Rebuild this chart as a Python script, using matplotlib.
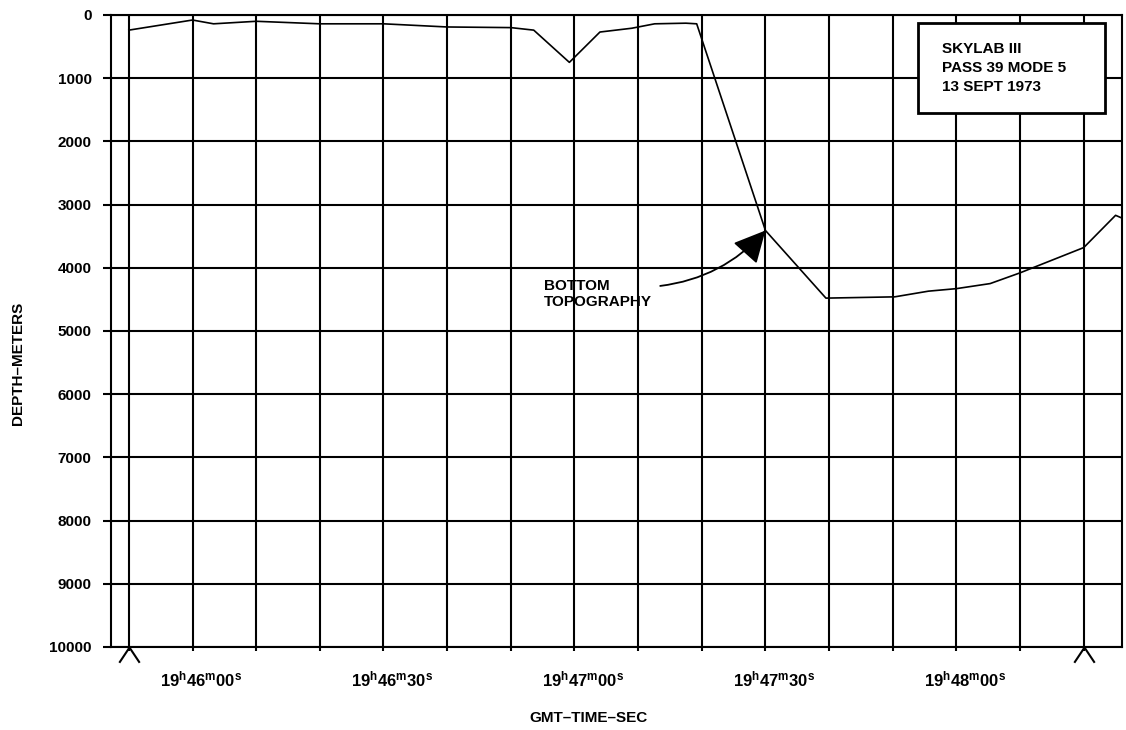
import matplotlib
matplotlib.use("Agg")
import matplotlib.pyplot as plt
import matplotlib.transforms as mtransforms
from matplotlib.patches import Rectangle

plt.rcParams["font.family"] = ["Liberation Sans", "DejaVu Sans"]
plt.rcParams["font.weight"] = "bold"
plt.rcParams["mathtext.fontset"] = "custom"
plt.rcParams["mathtext.rm"] = "Liberation Sans:bold"
plt.rcParams["mathtext.bf"] = "Liberation Sans:bold"
plt.rcParams["mathtext.default"] = "bf"

# time in seconds after 19h45m00s GMT, depth in meters
time_sec = [50, 60, 63.3, 70, 80, 90, 100, 110, 113.6, 119.2, 124, 129, 132.6,
            137.5, 139.2, 150, 159.5, 170.3, 175.6, 180, 185.3, 190, 195.5,
            200, 205, 208]
depth_m = [240, 80, 140, 100, 140, 140, 190, 200, 240, 750, 270, 210, 140,
           130, 140, 3410, 4480, 4460, 4370, 4330, 4250, 4080, 3860,
           3680, 3170, 3300]

grid_times = list(range(50, 201, 10))
label_times = [60, 90, 120, 150, 180]
label_texts = [r"$19^{h}46^{m}00^{s}$", r"$19^{h}46^{m}30^{s}$",
               r"$19^{h}47^{m}00^{s}$", r"$19^{h}47^{m}30^{s}$",
               r"$19^{h}48^{m}00^{s}$"]
depth_ticks = list(range(0, 10001, 1000))
marker_times = [50, 200]

info_lines = ["SKYLAB III", "PASS 39 MODE 5", "13 SEPT 1973"]

fig = plt.figure(figsize=(11.26, 7.30), dpi=100)
ax = fig.add_axes([0.0986, 0.1137, 0.8978, 0.8658])

ax.plot(time_sec, depth_m, color="black", lw=1.2, zorder=4)

ax.set_xlim(47.2, 206)
ax.set_ylim(10000, 0)

xlabels = []
for t in grid_times:
    if t in label_times:
        xlabels.append(label_texts[label_times.index(t)])
    else:
        xlabels.append("")
ax.set_xticks(grid_times)
ax.set_xticklabels(xlabels, fontsize=12)
ax.set_yticks(depth_ticks)
ax.set_yticklabels([str(d) for d in depth_ticks], fontsize=11, fontweight="bold")

ax.grid(True, color="black", lw=1.5)
ax.set_axisbelow(True)
for s in ax.spines.values():
    s.set_linewidth(1.5)
ax.tick_params(axis="x", direction="out", length=3, width=1.5, pad=13)
ax.tick_params(axis="y", direction="out", length=6, width=1.5, pad=8)

# shift the time labels slightly right like the original
offset = mtransforms.ScaledTranslation(9 / 100, 0, fig.dpi_scale_trans)
for lab in ax.get_xticklabels():
    lab.set_transform(lab.get_transform() + offset)

# carets marking the segment ends
caret = [(-1, -1.5), (0, 0), (1, -1.5)]
ax.plot(marker_times, [10000] * len(marker_times), linestyle="none",
        marker=caret, ms=22, mfc="none", mec="black", mew=1.5, clip_on=False,
        zorder=5)

# info box
ax.add_patch(Rectangle((0.798, 0.845), 0.185, 0.142, transform=ax.transAxes,
                       facecolor="white", edgecolor="black", lw=2, zorder=6))
ax.text(0.822, 0.916, "\n".join(info_lines), transform=ax.transAxes,
        ha="left", va="center", fontsize=11, fontweight="bold",
        linespacing=1.45, zorder=7)

ax.annotate("BOTTOM\nTOPOGRAPHY", xy=(150, 3410), xytext=(115.2, 4420),
            ha="left", va="center", fontsize=11, fontweight="bold",
            arrowprops=dict(arrowstyle="-|>,head_length=0.9,head_width=0.45",
                            color="black", lw=1.3, mutation_scale=22,
                            connectionstyle="arc3,rad=0.2",
                            relpos=(1.0, 0.75), shrinkA=4, shrinkB=0),
            zorder=7)

fig.text(588 / 1126, 1 - 718 / 730, "GMT\u2013TIME\u2013SEC", ha="center",
         va="center", fontsize=11, fontweight="bold")
fig.text(18 / 1126, 1 - 363 / 730, "DEPTH\u2013METERS", ha="center",
         va="center", rotation=90, fontsize=11, fontweight="bold")

fig.savefig("out.png", dpi=100)
